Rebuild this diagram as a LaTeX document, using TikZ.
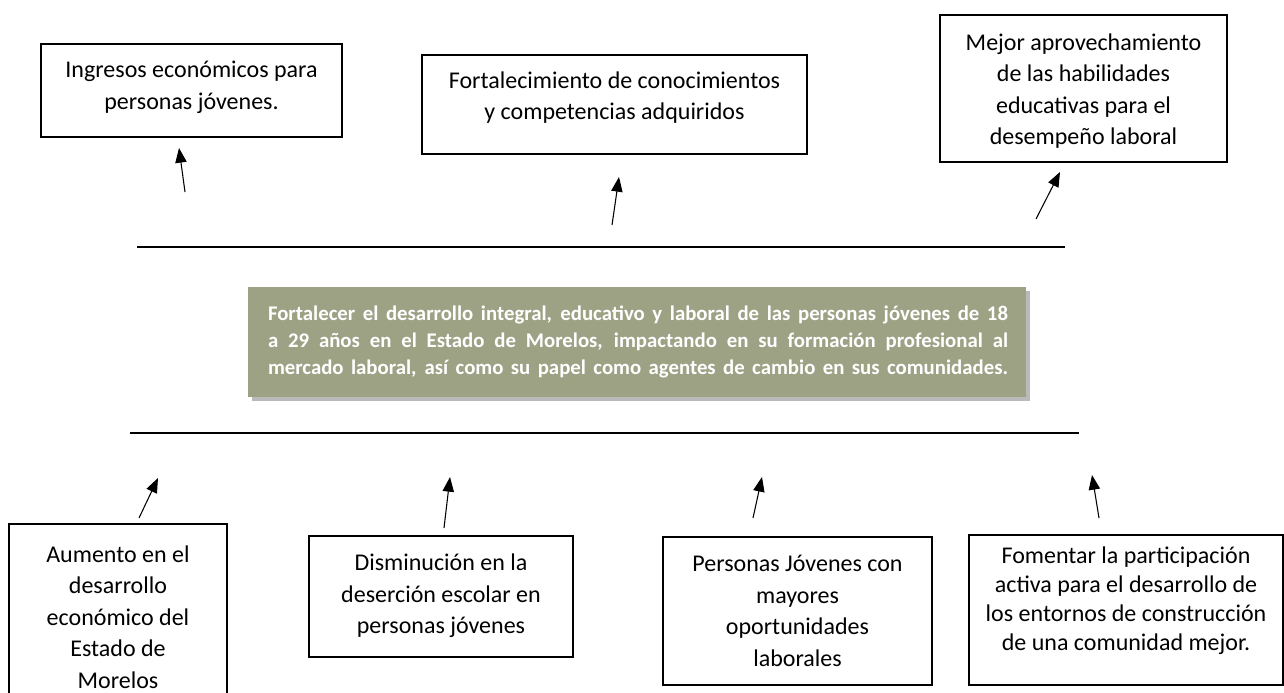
\documentclass[tikz,border=0pt]{standalone}
\usepackage{fontspec}
\setmainfont{Carlito}
\usetikzlibrary{arrows.meta,shadows}
\definecolor{goalfill}{RGB}{157,162,133}
\begin{document}
\begin{tikzpicture}[x=0.75pt,y=-0.75pt,
  box/.style={draw=black, line width=1.1pt, rectangle, inner sep=0pt},
  boxtext/.style={align=center, font=\fontsize{18}{23.6}\selectfont, inner sep=0pt},
  hline/.style={line width=0.9pt},
  arr/.style={line width=0.8pt, -{Triangle[length=11pt,width=8.5pt]}},
  goalbox/.style={fill=goalfill, inner sep=0pt,
    drop shadow={shadow xshift=3pt, shadow yshift=-3pt, opacity=0.45, fill=black!60}},
]
\useasboundingbox (0,0) rectangle (1284,692);
\clip (0,0) rectangle (1284,692);

% horizontal lines
\coordinate (l1a) at (137,247); \coordinate (l1b) at (1065,247);
\coordinate (l2a) at (130,433); \coordinate (l2b) at (1079,433);
\draw[hline] (l1a) -- (l1b);
\draw[hline] (l2a) -- (l2b);

% central goal
\node[goalbox, minimum width=583.5pt, minimum height=82.5pt] (goal) at (637,342) {};
\node[inner sep=0pt, text=white, font=\bfseries\fontsize{15.6}{20.25}\selectfont] (goalt) at (638,342) {\vbox{%
\hbox to 555pt{Fortalecer el desarrollo integral, educativo y laboral de las personas jóvenes de 18}
\hbox to 555pt{a 29 años en el Estado de Morelos, impactando en su formación profesional al}
\hbox to 555pt{mercado laboral, así como su papel como agentes de cambio en sus comunidades.}}};

% top boxes
\node[box, minimum width=225.75pt, minimum height=69.75pt] (b1) at (191.5,90.5) {};
\node[boxtext] (b1t) at (191.5,87.5) {Ingresos económicos para\\personas jóvenes.};
\node[box, minimum width=288.75pt, minimum height=74.25pt] (b2) at (614.5,104.5) {};
\node[boxtext] (b2t) at (614.5,97.5) {Fortalecimiento de conocimientos\\y competencias adquiridos};
\node[box, minimum width=215.25pt, minimum height=110.25pt] (b3) at (1083.5,88.5) {};
\node[boxtext] (b3t) at (1083.5,91) {Mejor aprovechamiento\\de las habilidades\\educativas para el\\desempeño laboral};

% bottom boxes
\node[box, minimum width=163.5pt, minimum height=136.5pt] (c1) at (118,615) {};
\node[boxtext] (c1t) at (118,617) {Aumento en el\\desarrollo\\económico del\\Estado de\\Morelos};
\node[box, minimum width=198pt, minimum height=90.75pt] (c2) at (441,596.5) {};
\node[boxtext] (c2t) at (441,596) {Disminución en la\\deserción escolar en\\personas jóvenes};
\node[box, minimum width=201.75pt, minimum height=111pt] (c3) at (797.5,611) {};
\node[boxtext] (c3t) at (797.5,611) {Personas Jóvenes con\\mayores\\oportunidades\\laborales};
\node[box, minimum width=235.5pt, minimum height=112.5pt] (c4) at (1126,610) {};
\node[boxtext, font=\fontsize{18}{21.75}\selectfont] (c4t) at (1126,601) {Fomentar la participación\\activa para el desarrollo de\\los entornos de construcción\\de una comunidad mejor.};

% arrows
\coordinate (a1s) at (185,192); \coordinate (a1e) at (179,148);
\coordinate (a2s) at (612,225); \coordinate (a2e) at (619,177);
\coordinate (a3s) at (1036,219); \coordinate (a3e) at (1060,172);
\coordinate (a4s) at (139,518); \coordinate (a4e) at (158,478);
\coordinate (a5s) at (444,528); \coordinate (a5e) at (450,477);
\coordinate (a6s) at (753,518); \coordinate (a6e) at (762,477);
\coordinate (a7s) at (1099,518); \coordinate (a7e) at (1092,475);
\foreach \i in {1,...,7} {\draw[arr] (a\i s) -- (a\i e);}
\end{tikzpicture}
\end{document}
